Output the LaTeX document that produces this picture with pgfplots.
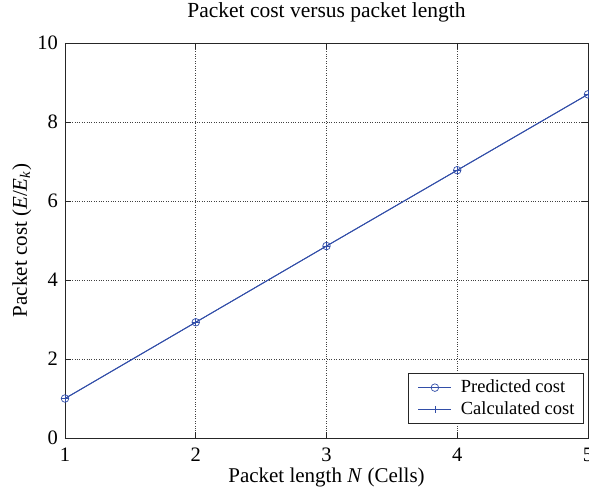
\documentclass[border=0pt]{standalone}
\usepackage{pgfplots}
\pgfplotsset{compat=1.18}
\usepackage{fontspec}
\setmainfont{Liberation Serif}
\definecolor{lineblue}{RGB}{50,78,168}
\begin{document}
\fontsize{21}{24}\selectfont
\begin{tikzpicture}
\begin{axis}[name=a, scale only axis, width=523pt, height=395pt,
  xmin=1, xmax=5, ymin=0, ymax=10,
  xtick={1,2,3,4,5}, ytick={0,2,4,6,8,10},
  grid=major, grid style={dotted, black!75, line width=0.6pt},
  tick align=inside, major tick length=6pt,
  axis line style={line width=0.9pt, black!85},
  tick style={black!85, line width=0.6pt},
  /pgf/number format/assume math mode=true,
  xticklabel={\pgfmathprintnumber[assume math mode=true]{\tick}},
  yticklabel={\pgfmathprintnumber[assume math mode=true]{\tick}},
  ticklabel style={font=\fontsize{20.5}{24}\selectfont},
  xticklabel style={anchor=base, yshift=-24pt},
  title={Packet cost versus packet length},
  title style={at={(axis description cs:0.5,1.0506)}, anchor=base, font=\fontsize{21.5}{24}\selectfont},
  xlabel={Packet length \textit{N} (Cells)},
  xlabel style={at={(axis description cs:0.5,-0.1139)}, anchor=base, font=\fontsize{21}{24}\selectfont},
  ylabel={Packet cost (\textit{E}/\textit{E}\textsubscript{\textit{k}})},
  ylabel style={at={(axis description cs:-0.0727,0.5)}, anchor=base, font=\fontsize{21}{24}\selectfont},
  legend style={at={(0.992,0.0354)}, anchor=south east, font=\fontsize{18.5}{22}\selectfont,
    draw=black!85, line width=0.8pt, inner xsep=9pt, inner ysep=4pt, row sep=2pt,
    nodes={inner xsep=0pt, inner ysep=2pt},
    /tikz/every odd column/.append style={column sep=9pt}},
  legend cell align=left,
  legend image code/.code={\draw[#1, draw=lineblue, line width=1pt, mark repeat=2, mark phase=2, mark options={draw=lineblue, line width=0.7pt}] plot coordinates {(0pt,0pt) (16.5pt,0pt) (33pt,0pt)};},
]
\addplot[color=lineblue, line width=0.9pt, mark=o, mark size=3.8pt, mark options={line width=0.7pt}]
  coordinates {(1,1.00) (2,2.93) (3,4.86) (4,6.78) (5,8.70)};
\addlegendentry{Predicted cost}
\addplot[color=lineblue, line width=0.9pt, mark=+, mark size=3.8pt, mark options={line width=0.7pt}]
  coordinates {(1,1.00) (2,2.93) (3,4.86) (4,6.78) (5,8.70)};
\addlegendentry{Calculated cost\hspace{7pt}}
\end{axis}
\pgfresetboundingbox
\path[use as bounding box] ([xshift=-65pt,yshift=-54pt]a.south west) rectangle ([xshift=1pt,yshift=43pt]a.north east);
\end{tikzpicture}
\end{document}
